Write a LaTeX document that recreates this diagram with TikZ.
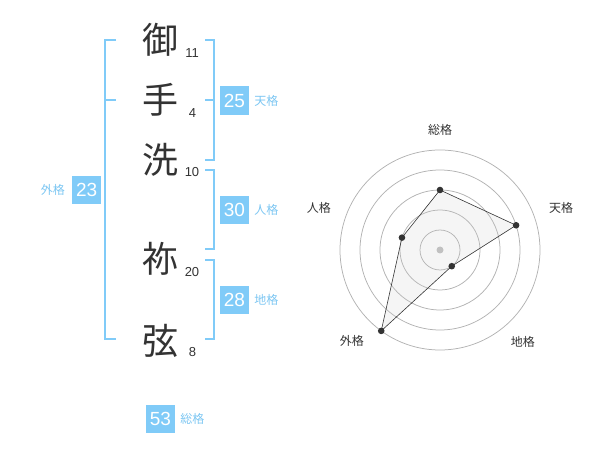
\documentclass[tikz,border=0pt]{standalone}
\usepackage{fontspec}
\setmainfont{Liberation Sans}
\newfontfamily\jp{Noto Sans CJK JP}
\usetikzlibrary{positioning}
\definecolor{kakublue}{HTML}{80CBF8}
\definecolor{kakutext}{HTML}{7CC6F2}
\definecolor{ink}{HTML}{333333}
\tikzset{
  kanji/.style={inner sep=0,text=ink,font=\jp\fontsize{36}{36}\selectfont},
  strokes/.style={inner sep=0,text=ink,font=\fontsize{13}{13}\selectfont},
  kakubox/.style={fill=kakublue,text=white,minimum width=29,minimum height=28.5,inner sep=0,font=\fontsize{19}{19}\selectfont},
  kakulabel/.style={inner sep=0,text=kakutext,font=\jp\fontsize{12}{12}\selectfont},
  bracket/.style={draw=kakublue,line width=1.8},
  radarlabel/.style={inner sep=0,text=ink,font=\jp\fontsize{12}{12}\selectfont}
}
\begin{document}
\begin{tikzpicture}[x=1pt,y=-1pt]
    \useasboundingbox (0,0) rectangle (600,470);
    \node[kanji] (mi) at (160,40) {御};
    \node[kanji] (te) at (160,100) {手};
    \node[kanji] (arai) at (160,160) {洗};
    \node[kanji] (ne) at (160,259) {祢};
    \node[kanji] (gen) at (160,341) {弦};
    \node[strokes] (smi) at (192,53) {11};
    \node[strokes] (ste) at (192.5,113) {4};
    \node[strokes] (sarai) at (192,172.5) {10};
    \node[strokes] (sne) at (192,272.5) {20};
    \node[strokes] (sgen) at (192.5,352.5) {8};
    \draw[bracket] (116,40) -- (105,40) -- (105,339) -- (116,339);
    \draw[bracket] (105,100) -- (116,100);
    \draw[bracket] (205,40) -- (214,40) -- (214,160) -- (205,160);
    \draw[bracket] (205,100) -- (214,100);
    \draw[bracket] (205,170) -- (214,170) -- (214,249) -- (205,249);
    \draw[bracket] (205,260) -- (214,260) -- (214,339) -- (205,339);
    \node[kakubox] (ten) at (234.5,100.5) {25};
    \node[kakulabel,right=5pt of ten] (tenl) {天格};
    \node[kakubox] (jin) at (234.5,210) {30};
    \node[kakulabel,right=5pt of jin] (jinl) {人格};
    \node[kakubox] (chi) at (234.5,300) {28};
    \node[kakulabel,right=5pt of chi] (chil) {地格};
    \node[kakubox] (gai) at (86.7,190) {23};
    \node[kakulabel,left=7pt of gai] (gail) {外格};
    \node[kakubox] (sou) at (160.5,419) {53};
    \node[kakulabel,right=5pt of sou] (soul) {総格};
    \begin{scope}[shift={(440,250)},y=1pt]
        \foreach \r in {20,40,60,80,100}
            \draw[gray!60,line width=0.75] (0,0) circle [radius=\r];
        \fill[gray!50] (0,0) circle [radius=3.5];
        \coordinate (psou) at (90:60);
        \coordinate (pten) at (18:80);
        \coordinate (pchi) at (-54:20);
        \coordinate (pgai) at (234:100);
        \coordinate (pjin) at (162:40);
        \filldraw[fill=gray!40,fill opacity=0.2,draw=ink,line width=0.6] (psou) -- (pten) -- (pchi) -- (pgai) -- (pjin) -- cycle;
        \foreach \p in {psou,pten,pchi,pgai,pjin}
            \fill[ink] (\p) circle [radius=3.3];
        \node[radarlabel] (rsou) at (90:120) {総格};
        \node[radarlabel] (rten) at (19:128) {天格};
        \node[radarlabel] (rchi) at (-48:124) {地格};
        \node[radarlabel] (rgai) at (226:127) {外格};
        \node[radarlabel] (rjin) at (161:128) {人格};
    \end{scope}
\end{tikzpicture}
\end{document}
